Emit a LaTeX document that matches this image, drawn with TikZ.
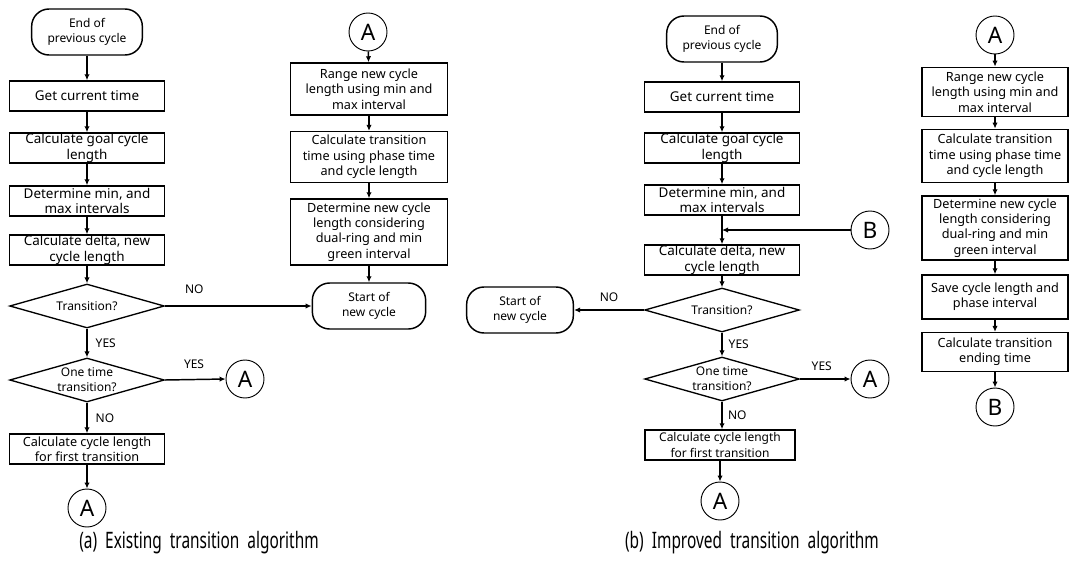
\documentclass[tikz,border=0pt]{standalone}
\usepackage{fontspec}
\setmainfont{Noto Sans}
\usetikzlibrary{shapes.geometric,arrows.meta}
% text of a decision, kept out of the diamond size
\newcommand{\dtxt}[1]{\makebox[0pt]{\smash{\raisebox{-3pt}{$\vcenter{\hbox{\begin{tabular}{@{}c@{}}#1\end{tabular}}}$}}}}
\tikzset{
	every node/.style={font=\fontsize{9}{11.5}\selectfont},
	proc/.style={draw, line width=1.1pt, align=center, inner xsep=2pt, inner ysep=0pt, minimum width=#1, minimum height=22.5pt},
	proc/.default=116pt,
	bigtxt/.style={font=\fontsize{10.1}{11.5}\selectfont},
	midtxt/.style={font=\fontsize{9.5}{11.5}\selectfont},
	term/.style={draw, line width=1.1pt, rounded corners=13pt, align=center, minimum width=83pt, minimum height=34.5pt, inner sep=0pt},
	decis/.style={draw, diamond, line width=1pt, minimum width=116pt, minimum height=33pt, inner sep=0pt},
	conn/.style={draw, circle, line width=0.7pt, minimum size=28.5pt, inner sep=0pt, font=\fontsize{17}{19}\selectfont},
	lbl/.style={inner sep=2pt},
	capt/.style={font=\fontsize{17}{20}\selectfont},
	>={Latex[length=4.5pt,width=4pt]}
}
\begin{document}
\begin{tikzpicture}[x=0.75pt,y=-0.75pt,line width=1.1pt]
	\useasboundingbox (0,0) rectangle (1069,560);
	% (a) main flow
	\node[term] (term1) at (87,32) {End of\\previous cycle};
	\node[proc, bigtxt] (get1) at (87,96) {Get current time};
	\node[proc, bigtxt] (goal1) at (87,148) {Calculate goal cycle\\length};
	\node[proc, bigtxt] (minmax1) at (87,201) {Determine min, and\\max intervals};
	\node[proc, bigtxt] (delta1) at (87,250) {Calculate delta, new\\cycle length};
	\node[decis] (trans1) at (87,306) {\dtxt{Transition?}};
	\node[decis] (once1) at (87,380) {\dtxt{One time\\transition?}};
	\node[proc, midtxt] (first1) at (87,449) {Calculate cycle length\\for first transition};
	\node[conn] (a1) at (87,508) {A};
	\node[conn] (aR1) at (245,379) {A};
	% (a) right column
	\node[conn] (aTop1) at (368,32) {A};
	\node[proc=118pt, midtxt, minimum height=39pt] (range1) at (369,89) {Range new cycle\\length using min and\\max interval};
	\node[proc=118pt, midtxt, minimum height=38pt] (ttime1) at (369,157) {Calculate transition\\time using phase time\\and cycle length};
	\node[proc=118pt, midtxt, minimum height=49.5pt] (newcl1) at (369,232) {Determine new cycle\\length considering\\dual-ring and min\\green interval};
	\node[term, minimum width=85pt] (start1) at (369,306) {Start of\\new cycle};
	% (a) arrows
	\draw[->] (term1) -- (get1);
	\draw[->] (get1) -- (goal1);
	\draw[->] (goal1) -- (minmax1);
	\draw[->] (minmax1) -- (delta1);
	\draw[->] (delta1) -- (trans1);
	\draw[->] (trans1.east) -- node[lbl, above=7pt, pos=0.2] {NO} (start1.west);
	\draw[->] (trans1.south) -- node[lbl, right=4pt] {YES} (once1.north);
	\draw[->] (once1.east) -- node[lbl, above=5.3pt, pos=0.48] {YES} (aR1.west);
	\draw[->] (once1.south) -- node[lbl, right=4pt] {NO} (first1.north);
	\draw[->] (first1) -- (a1);
	\draw[->] (aTop1) -- (range1);
	\draw[->] (range1) -- (ttime1);
	\draw[->] (ttime1) -- (newcl1);
	\draw[->] (newcl1) -- (start1);
	% (b) main flow
	\node[term] (term2) at (722,39) {End of\\previous cycle};
	\node[proc, bigtxt] (get2) at (722,97) {Get current time};
	\node[proc, bigtxt] (goal2) at (722,148) {Calculate goal cycle\\length};
	\node[proc, bigtxt] (minmax2) at (722,200) {Determine min, and\\max intervals};
	\node[conn] (bIn2) at (870,230) {B};
	\coordinate (join2) at (minmax2.south |- bIn2.west);
	\node[proc, bigtxt] (delta2) at (722,260) {Calculate delta, new\\cycle length};
	\node[decis] (trans2) at (722,310) {\dtxt{Transition?}};
	\node[term, minimum width=80pt] (start2) at (520,310) {Start of\\new cycle};
	\node[decis] (once2) at (722,379) {\dtxt{One time\\transition?}};
	\node[conn] (aR2) at (870,379) {A};
	\node[proc=112.5pt] (first2) at (720,445) {Calculate cycle length\\for first transition};
	\node[conn] (a2) at (720,501) {A};
	% (b) right column
	\node[conn] (aTop2) at (995,35) {A};
	\node[proc=109.5pt, midtxt, minimum height=37pt] (range2) at (995,92) {Range new cycle\\length using min and\\max interval};
	\node[proc=109.5pt, midtxt, minimum height=40pt] (ttime2) at (995,156) {Calculate transition\\time using phase time\\and cycle length};
	\node[proc=109.5pt, midtxt, minimum height=48pt] (newcl2) at (995,228) {Determine new cycle\\length considering\\dual-ring and min\\green interval};
	\node[proc=109.5pt, midtxt, minimum height=33pt] (save2) at (995,297) {Save cycle length and\\phase interval};
	\node[proc=109.5pt, midtxt, minimum height=29pt] (end2) at (995,352) {Calculate transition\\ending time};
	\node[conn] (b2) at (995,407) {B};
	% (b) arrows
	\draw[->] (term2) -- (get2);
	\draw[->] (get2) -- (goal2);
	\draw[->] (goal2) -- (minmax2);
	\draw[->] (minmax2) -- (delta2);
	\draw[->] (bIn2.west) -- (join2);
	\draw[->] (delta2) -- (trans2);
	\draw[->] (trans2.west) -- node[lbl, above=3.8pt, pos=0.5] {NO} (start2.east);
	\draw[->] (trans2.south) -- node[lbl, right=2.5pt] {YES} (once2.north);
	\draw[->] (once2.east) -- node[lbl, above=3.8pt, pos=0.43] {YES} (aR2.west);
	\draw[->] (once2.south) -- node[lbl, right=2pt] {NO} (first2.north -| once2.south);
	\draw[->] (first2) -- (a2);
	\draw[->] (aTop2) -- (range2);
	\draw[->] (range2) -- (ttime2);
	\draw[->] (ttime2) -- (newcl2);
	\draw[->] (newcl2) -- (save2);
	\draw[->] (save2) -- (end2);
	\draw[->] (end2) -- (b2);
	% Captions
	\node[capt] (captA) at (199,543) {\scalebox{0.68}[1]{(a)\ \ Existing\ \ transition\ \ algorithm}};
	\node[capt] (captB) at (752,543) {\scalebox{0.68}[1]{(b)\ \ Improved\ \ transition\ \ algorithm}};
\end{tikzpicture}
\end{document}
